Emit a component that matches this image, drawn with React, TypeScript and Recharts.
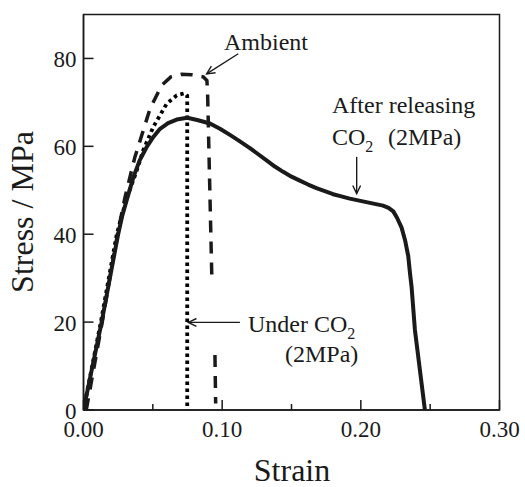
import React from "react";
import {
  LineChart,
  Line,
  XAxis,
  YAxis,
  ReferenceArea,
  ReferenceLine,
} from "recharts";

// after releasing CO2 (2MPa) - solid
const releasedStrain = [
  0, 0.0065, 0.0131, 0.019, 0.025, 0.028, 0.0311, 0.036, 0.0405, 0.0455, 0.0505, 0.0552, 0.061,
  0.0672, 0.0748, 0.082, 0.0912, 0.0984, 0.1056, 0.112, 0.12, 0.126, 0.132, 0.138, 0.144, 0.15,
  0.156, 0.162, 0.168, 0.174, 0.18, 0.186, 0.192, 0.198, 0.204, 0.21, 0.216, 0.22, 0.2234, 0.226,
  0.2294, 0.232, 0.2342, 0.2355, 0.2366, 0.239, 0.2426, 0.2462,
];
const releasedStress = [
  0, 10, 20, 30, 40, 44.3, 47.7, 53, 56.8, 59.8, 62.2, 64, 65.3, 66.1, 66.5, 66, 65.2, 64, 62.6,
  61.3, 59.6, 58.2, 56.8, 55.4, 54.2, 53.1, 52.2, 51.3, 50.5, 49.8, 49.1, 48.6, 48.1, 47.7, 47.3,
  46.9, 46.5, 46, 45.2, 43.8, 41.5, 38.5, 35, 31, 28, 18.2, 9.1, 0,
];

// under CO2 (2MPa) - dotted
const underStrain = [
  0, 0.0125, 0.024, 0.031, 0.0384, 0.0431, 0.0503, 0.06, 0.0672, 0.0732, 0.0748, 0.0748,
];
const underStress = [0, 20, 40, 48, 54.5, 59.1, 64.4, 69.7, 71.6, 72.1, 71.5, 0];

// ambient - dashed (null = gap in the broken end)
const ambientStrain = [
  0.002, 0.0135, 0.0245, 0.03, 0.0335, 0.0371, 0.042, 0.048, 0.0564, 0.063, 0.0708, 0.078, 0.0864,
  0.089, 0.0895, 0.0926, 0.0937, 0.0948, 0.0953,
];
const ambientStress: (number | null)[] = [
  0, 20, 40, 48.5, 53, 57.6, 62.5, 68.6, 73.9, 75.8, 76.4, 76.3, 75.8, 75, 72, 29.5, null, 12.5,
  1.5,
];

const xTicks = [0, 0.05, 0.1, 0.15, 0.2, 0.25, 0.3];
const yTicks = [0, 20, 40, 60, 80];

const toRows = (xs: number[], ys: (number | null)[]) =>
  xs.map((x, i) => ({ strain: x, stress: ys[i] }));

const released = toRows(releasedStrain, releasedStress);
const under = toRows(underStrain, underStress);
const ambient = toRows(ambientStrain, ambientStress);

const FONT = '"Liberation Serif", "Times New Roman", serif';
const INK = "#1a1a1a";

const XTick = (props: any) => {
  const { x, y, payload } = props;
  const v = payload.value;
  const major = Math.abs(v * 10 - Math.round(v * 10)) < 1e-6;
  return (
    <g>
      <line x1={x} x2={x} y1={y} y2={y - (major ? 10 : 6)} stroke={INK} strokeWidth={1.5} />
      {major && (
        <text x={x} y={y + 27} textAnchor="middle" fontFamily={FONT} fontSize={23} fill={INK}>
          {v.toFixed(2)}
        </text>
      )}
    </g>
  );
};

const YTick = (props: any) => {
  const { x, y, payload } = props;
  return (
    <g>
      <line x1={x} x2={x + 10} y1={y} y2={y} stroke={INK} strokeWidth={1.5} />
      <text x={x - 7} y={y + 8.5} textAnchor="end" fontFamily={FONT} fontSize={23} fill={INK}>
        {payload.value}
      </text>
    </g>
  );
};

const Arrow = (props: any) => {
  const { x1, y1, x2, y2 } = props;
  const a = Math.atan2(y2 - y1, x2 - x1);
  const len = 9;
  const spread = 0.45;
  const p1 = [x2 - len * Math.cos(a - spread), y2 - len * Math.sin(a - spread)];
  const p2 = [x2 - len * Math.cos(a + spread), y2 - len * Math.sin(a + spread)];
  return (
    <g>
      <line x1={x1} y1={y1} x2={x2} y2={y2} stroke={INK} strokeWidth={1.4} />
      <polyline
        points={`${p1[0]},${p1[1]} ${x2},${y2} ${p2[0]},${p2[1]}`}
        fill="none"
        stroke={INK}
        strokeWidth={1.4}
      />
    </g>
  );
};

export default function App() {
  return (
    <div style={{ position: "absolute", left: 0, top: 0, width: 525, height: 487, background: "#fff" }}>
      <LineChart
        width={525}
        height={487}
        margin={{ top: 14.5, right: 25.5, left: 0, bottom: 0 }}
      >
        <XAxis
          dataKey="strain"
          type="number"
          domain={[0, 0.3]}
          ticks={xTicks}
          interval={0}
          allowDataOverflow
          height={77}
          tickSize={0}
          tickMargin={0}
          tickLine={false}
          axisLine={{ stroke: INK, strokeWidth: 1.5 }}
          tick={<XTick />}
        />
        <YAxis
          dataKey="stress"
          type="number"
          domain={[0, 90]}
          ticks={yTicks}
          interval={0}
          allowDataOverflow
          width={83.5}
          tickSize={0}
          tickMargin={0}
          tickLine={false}
          axisLine={{ stroke: INK, strokeWidth: 1.5 }}
          tick={<YTick />}
        />
        <ReferenceArea x1={0} x2={0.3} y1={0} y2={90} fill="none" stroke={INK} strokeWidth={1.5} />

        <Line
          data={ambient}
          dataKey="stress"
          type="linear"
          stroke={INK}
          strokeWidth={3.5}
          strokeDasharray="12 9"
          dot={false}
          connectNulls={false}
          isAnimationActive={false}
        />
        <Line
          data={under}
          dataKey="stress"
          type="linear"
          stroke="#000"
          strokeWidth={3.8}
          strokeDasharray="3.4 3.6"
          dot={false}
          isAnimationActive={false}
        />
        <Line
          data={released}
          dataKey="stress"
          type="linear"
          stroke={INK}
          strokeWidth={4}
          strokeLinejoin="round"
          dot={false}
          isAnimationActive={false}
        />

        <ReferenceLine
          segment={[{ x: 0.1116, y: 81.07 }, { x: 0.0888, y: 76.5 }]}
          shape={<Arrow />}
        />
        <ReferenceLine
          segment={[{ x: 0.197, y: 57.6 }, { x: 0.197, y: 49.25 }]}
          shape={<Arrow />}
        />
        <ReferenceLine
          segment={[{ x: 0.1128, y: 19.93 }, { x: 0.0756, y: 19.93 }]}
          shape={<Arrow />}
        />
      </LineChart>

      <svg
        width={525}
        height={487}
        style={{ position: "absolute", left: 0, top: 0, pointerEvents: "none" }}
        fontFamily={FONT}
        fill={INK}
      >
        <text x={224} y={50} fontSize={24}>Ambient</text>
        <text x={332} y={113} fontSize={24}>After releasing</text>
        <text x={332} y={145} fontSize={24}>
          CO<tspan dy={7} fontSize={16}>2</tspan>
          <tspan x={388} dy={-7}>(2MPa)</tspan>
        </text>
        <text x={248} y={332} fontSize={24}>
          Under CO<tspan dy={7} fontSize={16}>2</tspan>
        </text>
        <text x={285} y={362} fontSize={24}>(2MPa)</text>
        <text x={292} y={481} fontSize={32} textAnchor="middle">Strain</text>
        <text x={33} y={212} fontSize={32} textAnchor="middle" transform="rotate(-90 33 212)">
          Stress / MPa
        </text>
      </svg>
    </div>
  );
}
